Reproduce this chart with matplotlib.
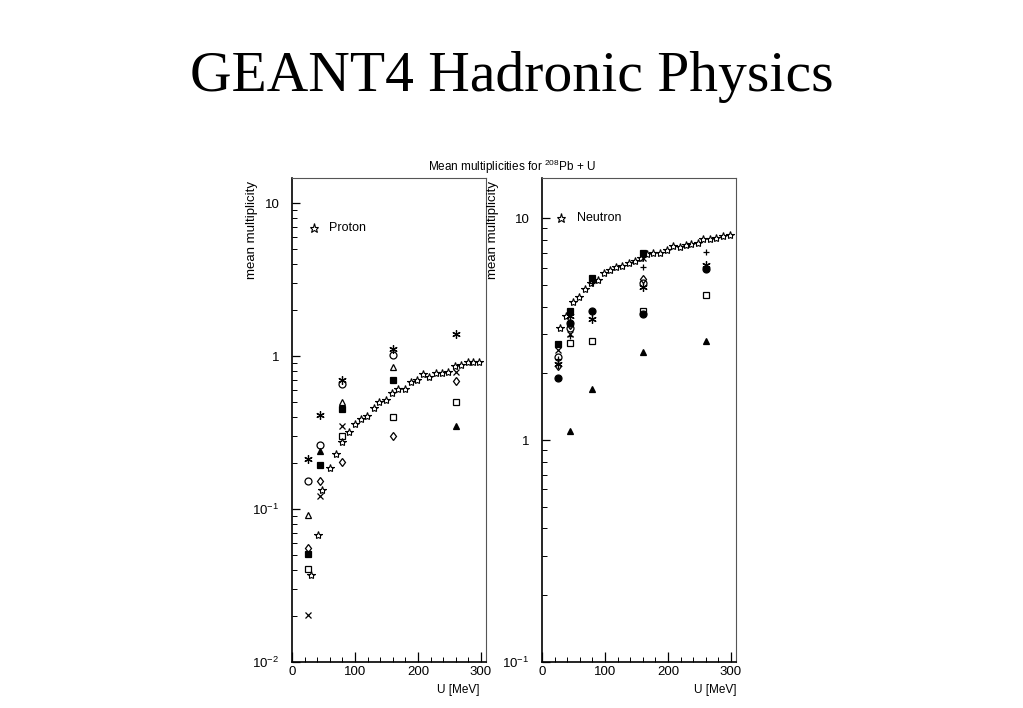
import numpy as np
import matplotlib
matplotlib.use("Agg")
import matplotlib.pyplot as plt
from matplotlib.ticker import FixedLocator, FixedFormatter, LogLocator, NullFormatter, MultipleLocator

plt.rcParams['font.family'] = ['Liberation Sans', 'DejaVu Sans']
plt.rcParams['mathtext.fontset'] = 'custom'
plt.rcParams['mathtext.rm'] = 'Liberation Sans'

# ---- proton panel: model (open stars)
p_model_x = [30, 41, 48, 60, 70, 79, 90, 100, 110, 119, 130, 139, 149, 159, 169, 179,
             189, 198, 208, 217, 229, 238, 247, 259, 268, 279, 288, 297]
p_model_y = [0.037, 0.068, 0.133, 0.185, 0.229, 0.273, 0.32, 0.357, 0.386, 0.404, 0.46, 0.50,
             0.52, 0.575, 0.61, 0.61, 0.68, 0.70, 0.76, 0.725, 0.78, 0.78, 0.79, 0.86, 0.87,
             0.92, 0.91, 0.91]

# ---- proton panel: measured points, one list per symbol
p_ast_x, p_ast_y = [25, 45, 80, 160, 260], [0.211, 0.41, 0.70, 1.11, 1.39]
p_ocirc_x, p_ocirc_y = [25, 45, 80, 160], [0.152, 0.263, 0.653, 1.01]
p_otri_x, p_otri_y = [25, 80, 160], [0.0914, 0.50, 0.85]
p_fsq_x, p_fsq_y = [25, 45, 80, 160], [0.0506, 0.193, 0.45, 0.70]
p_osq_x, p_osq_y = [25, 80, 160, 260], [0.0405, 0.30, 0.40, 0.50]
p_cross_x, p_cross_y = [25, 45, 80, 260], [0.0202, 0.122, 0.35, 0.79]
p_diam_x, p_diam_y = [25, 45, 80, 160, 260], [0.0558, 0.152, 0.203, 0.30, 0.69]
p_ftri_x, p_ftri_y = [45, 260], [0.24, 0.35]

# ---- neutron panel: model (open stars)
n_model_x = [29, 38, 49, 58, 69, 78, 89, 99, 108, 118, 127, 138, 148, 157, 167, 177,
             188, 198, 208, 219, 229, 237, 247, 256, 267, 276, 288, 299]
n_model_y = [3.2, 3.62, 4.18, 4.44, 4.78, 5.1, 5.28, 5.68, 5.87, 6.05, 6.1, 6.3, 6.4, 6.6,
             6.87, 6.98, 7.0, 7.2, 7.5, 7.45, 7.6, 7.7, 7.77, 8.09, 8.1, 8.17, 8.3, 8.45]

# ---- neutron panel: measured points
n_fsq_x, n_fsq_y = [25, 45, 80, 160], [2.72, 3.84, 5.37, 6.95]
n_cross_x, n_cross_y = [25, 45, 160], [2.55, 3.0, 6.6]
n_ocirc_x, n_ocirc_y = [25, 45, 160], [2.38, 3.2, 5.13]
n_plus_x, n_plus_y = [25, 45, 80, 160, 260], [2.31, 2.95, 5.1, 6.05, 7.08]
n_ast_x, n_ast_y = [25, 45, 80, 160, 260], [2.21, 3.62, 3.52, 4.9, 6.16]
n_diam_x, n_diam_y = [25, 45, 160, 260], [2.17, 3.3, 5.35, 6.0]
n_fcirc_x, n_fcirc_y = [25, 45, 80, 160, 260], [1.90, 3.37, 3.82, 3.69, 5.9]
n_osq_x, n_osq_y = [45, 80, 160, 260], [2.74, 2.81, 3.82, 4.5]
n_ftri_x, n_ftri_y = [45, 80, 160, 260], [1.095, 1.70, 2.49, 2.79]

ASTER = (6, 2, 0)
ms = 5


def sym(ax, x, y, marker, filled, size=ms, mew=0.9):
    ax.plot(x, y, linestyle='none', marker=marker, markersize=size,
            markerfacecolor='black' if filled else 'none',
            markeredgecolor='black', markeredgewidth=mew, color='black')


def style(ax, ylim, yticks, ylabels):
    ax.set_yscale('log')
    ax.set_xlim(0, 308)
    ax.set_ylim(*ylim)
    ax.yaxis.set_major_locator(FixedLocator(yticks))
    ax.yaxis.set_major_formatter(FixedFormatter(ylabels))
    ax.yaxis.set_minor_locator(LogLocator(base=10, subs=np.arange(2, 10)))
    ax.yaxis.set_minor_formatter(NullFormatter())
    ax.xaxis.set_major_locator(FixedLocator([0, 100, 200, 300]))
    ax.xaxis.set_major_formatter(FixedFormatter(['0', '100', '200', '300']))
    ax.xaxis.set_minor_locator(MultipleLocator(20))
    ax.tick_params(which='both', direction='in', top=False, right=False,
                   labelsize=9.5, color='black')
    ax.tick_params(axis='y', which='major', length=6, width=0.9, pad=9)
    ax.tick_params(axis='y', which='minor', length=3.5, width=0.7)
    ax.tick_params(axis='x', which='major', length=7, width=0.9, pad=3)
    ax.tick_params(axis='x', which='minor', length=3.5, width=0.7)
    for s in ['top', 'right']:
        ax.spines[s].set_linewidth(0.8)
        ax.spines[s].set_color('#555555')
    for s in ['left', 'bottom']:
        ax.spines[s].set_linewidth(1.2)
        ax.spines[s].set_color('black')


fig = plt.figure(figsize=(10.23, 7.08), dpi=100)
fig.text(0.5, 1 - 77 / 708, 'GEANT4 Hadronic Physics', ha='center', va='center',
         fontsize=41.5, family=['Liberation Serif', 'DejaVu Serif'])
fig.text(0.5, 1 - 167 / 708, r'Mean multiplicities for $^{208}$Pb + U', ha='center',
         va='center', fontsize=8.5)

ax1 = fig.add_axes([0.2854, 0.065, 0.1896, 0.6836])
ax2 = fig.add_axes([0.5298, 0.065, 0.1896, 0.6836])

# proton
sym(ax1, p_model_x, p_model_y, '*', False, 6, 0.8)
sym(ax1, p_ast_x, p_ast_y, ASTER, False, 6)
sym(ax1, p_ocirc_x, p_ocirc_y, 'o', False)
sym(ax1, p_otri_x, p_otri_y, '^', False)
sym(ax1, p_fsq_x, p_fsq_y, 's', True)
sym(ax1, p_osq_x, p_osq_y, 's', False)
sym(ax1, p_cross_x, p_cross_y, 'x', False)
sym(ax1, p_diam_x, p_diam_y, 'd', False, 4.5)
sym(ax1, p_ftri_x, p_ftri_y, '^', True)
style(ax1, (0.01, 14.6), [0.01, 0.1, 1, 10], [r'$10^{-2}$', r'$10^{-1}$', '1', '10'])

# neutron
sym(ax2, n_model_x, n_model_y, '*', False, 6, 0.8)
sym(ax2, n_fsq_x, n_fsq_y, 's', True)
sym(ax2, n_cross_x, n_cross_y, 'x', False)
sym(ax2, n_ocirc_x, n_ocirc_y, 'o', False)
sym(ax2, n_plus_x, n_plus_y, '+', False)
sym(ax2, n_ast_x, n_ast_y, ASTER, False, 6)
sym(ax2, n_diam_x, n_diam_y, 'd', False, 4.5)
sym(ax2, n_fcirc_x, n_fcirc_y, 'o', True)
sym(ax2, n_osq_x, n_osq_y, 's', False)
sym(ax2, n_ftri_x, n_ftri_y, '^', True)
style(ax2, (0.1, 15.2), [0.1, 1, 10], [r'$10^{-1}$', '1', '10'])

# in-panel keys and labels
for ax, kx, ky, name, lx in [(ax1, 0.113, 0.897, 'Proton', -0.206),
                             (ax2, 0.098, 0.917, 'Neutron', -0.253)]:
    ax.plot([kx], [ky], transform=ax.transAxes, linestyle='none', marker='*',
            markersize=6.5, markerfacecolor='none', markeredgecolor='black',
            markeredgewidth=0.8, clip_on=False)
    ax.text(kx + 0.08, ky, name, transform=ax.transAxes, ha='left', va='center', fontsize=9)
    ax.text(lx, 0.893, 'mean multiplicity', transform=ax.transAxes, rotation=90,
            ha='center', va='center', fontsize=9.5)

ax1.text(0.856, -0.058, 'U [MeV]', transform=ax1.transAxes, ha='center', va='center',
         fontsize=8.5)
ax2.text(0.892, -0.058, 'U [MeV]', transform=ax2.transAxes, ha='center', va='center',
         fontsize=8.5)

fig.savefig('out.png', dpi=100)
